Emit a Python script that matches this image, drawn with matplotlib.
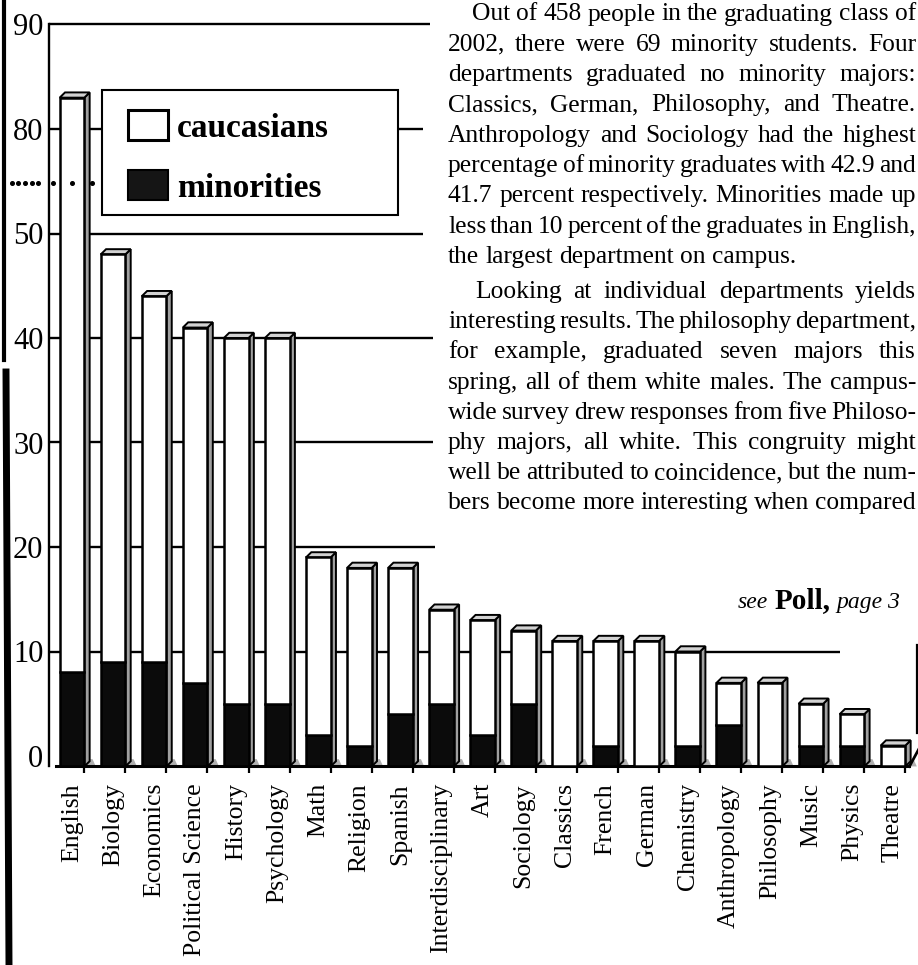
import numpy as np
import matplotlib
matplotlib.use("Agg")
import matplotlib.pyplot as plt
from matplotlib.patches import Polygon, Rectangle
from matplotlib.lines import Line2D
from matplotlib.transforms import Affine2D
from matplotlib.ticker import NullLocator

# ---------------- data ----------------
categories = ["English", "Biology", "Economics", "Political Science", "History",
              "Psychology", "Math", "Religion", "Spanish", "Interdisciplinary",
              "Art", "Sociology", "Classics", "French", "German", "Chemistry",
              "Anthropology", "Philosophy", "Music", "Physics", "Theatre"]
totals = [83, 48, 44, 41, 40, 40, 19, 18, 18, 14, 13, 12, 11, 11, 11, 10, 7, 7, 5, 4, 1]
minorities = [8, 9, 9, 7, 5, 5, 2, 1, 4, 5, 2, 5, 0, 1, 0, 1, 3, 0, 1, 1, 0]
ytick_values = [0, 10, 20, 30, 40, 50, 80, 90]
ytick_labels = ["0", "10", "20", "30", "40", "50", "80", "90"]
legend_labels = ["caucasians", "minorities"]

para1 = [
    "Out of 458 people in the graduating class of",
    "2002, there were 69 minority students.  Four",
    "departments graduated no minority majors:",
    "Classics, German, Philosophy, and Theatre.",
    "Anthropology and Sociology had the highest",
    "percentage of minority graduates with 42.9 and",
    "41.7 percent respectively. Minorities made up",
    "less than 10 percent of the graduates in English,",
    "the largest department on campus.",
]
para2 = [
    "Looking at individual departments yields",
    "interesting results. The philosophy department,",
    "for example, graduated seven majors this",
    "spring, all of them white males. The campus-",
    "wide survey drew responses from five Philoso-",
    "phy majors, all white. This congruity might",
    "well be attributed to coincidence, but the num-",
    "bers become more interesting when compared",
]
see_parts = [("see", "italic", "normal", 17), ("Poll,", "normal", "bold", 21),
             ("page 3", "italic", "normal", 17)]

# ---------------- setup ----------------
SERIF = "Liberation Serif"
plt.rcParams["font.family"] = [SERIF, "DejaVu Serif"]

W, H = 918, 965
fig = plt.figure(figsize=(W / 100, H / 100), dpi=100)
fig.patch.set_facecolor("white")
fig_px = Affine2D().scale(1.0 / W, -1.0 / H).translate(0, 1) + fig.transFigure


def fwd(v):
    v = np.asarray(v, dtype=float)
    return np.where(v <= 50, v, np.where(v >= 80, v - 20, 50 + (v - 50) / 3.0))


def inv(d):
    d = np.asarray(d, dtype=float)
    return np.where(d <= 50, d, np.where(d >= 60, d + 20, 50 + (d - 50) * 3.0))


# pixel geometry
X0, DX = 72.0, 41.05      # px of first category, px per category
Y0, DY = 756.0, 10.45     # px of value 0, px per display unit
L, R, T, B = 49, 918, 20, 775
ax = fig.add_axes([L / W, (H - B) / H, (R - L) / W, (B - T) / H])
ax.set_facecolor("none")
ax.set_yscale("function", functions=(fwd, inv))
ax.set_xlim((L - X0) / DX, (R - X0) / DX)
ax.set_ylim(float(inv((Y0 - B) / DY)), float(inv((Y0 - T) / DY)))
xmin = (L - X0) / DX

# ---------------- grid lines (back wall) ----------------
grid_vals = [10, 20, 30, 40, 50, 80, 90]
grid_ends = [18.71, 8.84, 8.8, 8.8, 8.55, 8.55, 8.72]
for gv, ge in zip(grid_vals, grid_ends):
    ax.hlines(gv, xmin, ge, color="black", lw=1.7, zorder=1)

# ---------------- bars ----------------
x = np.arange(len(categories))
tot = np.array(totals, dtype=float)
mino = np.array(minorities, dtype=float)
w = 0.6
ddx, ddy = 0.13, 0.5
base = -1.0

for xi, t in zip(x, tot):
    xl, xr = xi - w / 2, xi + w / 2
    top_up = float(inv(fwd(t) + ddy))
    # floor shadow
    ax.add_patch(Polygon([(xr, base), (xr + 0.28, base), (xr + 0.2, -0.3), (xr + 0.02, -0.3)],
                         closed=True, facecolor="#b0b0b0", edgecolor="none", zorder=2))
    # side face
    ax.add_patch(Polygon([(xr, base), (xr + ddx, base + ddy), (xr + ddx, top_up), (xr, t)],
                         closed=True, facecolor="#a0a0a0", edgecolor="black", lw=1.4, zorder=2))
    # top face
    ax.add_patch(Polygon([(xl, t), (xl + ddx, top_up), (xr + ddx, top_up), (xr, t)],
                         closed=True, facecolor="#d2d2d2", edgecolor="black", lw=1.4, zorder=2))

black_h = np.where(mino > 0, mino - base, 0.0)
white_bottom = np.where(mino > 0, mino, base)
ax.bar(x, black_h, bottom=base, width=w, color="#0b0b0b", edgecolor="black",
       lw=1.8, zorder=3, label=legend_labels[1])
ax.bar(x, tot - white_bottom, bottom=white_bottom, width=w, color="white",
       edgecolor="black", lw=1.8, zorder=3, label=legend_labels[0])

# ---------------- axes / ticks ----------------
for s in ["top", "right"]:
    ax.spines[s].set_visible(False)
ax.spines["bottom"].set_position(("data", base))
ax.spines["bottom"].set_bounds(-0.4, 20.4)
ax.spines["bottom"].set_linewidth(2.2)
ax.spines["left"].set_bounds(base, 90)
ax.spines["left"].set_linewidth(1.7)

ax.set_xticks(x)
ax.set_xticklabels(categories, rotation=90, fontsize=18.5, family=SERIF)
for lab in ax.get_xticklabels():
    lab.set_verticalalignment("top")
    lab.set_horizontalalignment("center")
ax.tick_params(axis="x", which="major", length=0, pad=12)
ax.set_xticks(x + 0.3, minor=True)
ax.tick_params(axis="x", which="minor", length=5, width=1.6, direction="out", color="black")

ax.set_yticks(ytick_values)
ax.set_yticklabels(ytick_labels, fontsize=22, family=SERIF)
ax.yaxis.set_minor_locator(NullLocator())
ax.tick_params(axis="y", which="major", length=0, pad=4)

# right-hand floor edge
ax.plot([20.4, 20.62], [base, 0.6], color="black", lw=2.0, clip_on=False, zorder=4)

# ---------------- legend ----------------
fig.add_artist(Rectangle((102, 90), 296, 125, transform=fig_px, facecolor="white",
                         edgecolor="black", lw=1.5, zorder=5))
fig.add_artist(Rectangle((128, 110), 40, 30, transform=fig_px, facecolor="white",
                         edgecolor="black", lw=2.2, zorder=6))
fig.add_artist(Rectangle((128, 170), 40, 30, transform=fig_px, facecolor="#151515",
                         edgecolor="black", lw=1.5, zorder=6))
fig.text(177, 137, legend_labels[0], transform=fig_px, fontsize=24, fontweight="bold",
         family=SERIF, ha="left", va="baseline", zorder=7)
fig.text(177, 197, legend_labels[1], transform=fig_px, fontsize=24, fontweight="bold",
         family=SERIF, ha="left", va="baseline", zorder=7)

# axis break dots
fig.add_artist(Line2D([12, 18, 25, 32, 38, 53, 72, 92], [183] * 8, transform=fig_px,
                      linestyle="none", marker="o", markersize=2.6, color="black", zorder=8))

# right wall edge
fig.add_artist(Line2D([917, 917], [645, 733], transform=fig_px, color="black", lw=1.6))

# scanned page edge on the left
fig.add_artist(Line2D([4, 4], [0, 360], transform=fig_px, color="black", lw=3))
fig.add_artist(Line2D([6, 9], [372, 965], transform=fig_px, color="black", lw=5))

# ---------------- article text ----------------
renderer = fig.canvas.get_renderer()
FS = 18.4
space_px = 0.25 * FS * 100 / 72


def put_line(line, y, xl, xr, justify, **kw):
    words = line.split()
    texts = [fig.text(0, 0, wd, transform=fig_px, ha="left", va="baseline",
                      fontsize=FS, family=SERIF, **kw) for wd in words]
    widths = [t.get_window_extent(renderer).width for t in texts]
    if justify and len(words) > 1:
        gap = max((xr - xl - sum(widths)) / (len(words) - 1), 2.0)
    else:
        gap = space_px
    cx = xl
    for t, wd in zip(texts, widths):
        t.set_position((cx, y))
        cx += wd + gap


for k, line in enumerate(para1):
    xl = 472 if k == 0 else 448
    put_line(line, 20.5 + 30.3 * k, xl, 916, k < len(para1) - 1)
for j, line in enumerate(para2):
    xl = 475 if j == 0 else 448
    put_line(line, 298 + 30.2 * j, xl, 916, True)

# "see Poll, page 3"
cx = 738
for txt, style, weight, fs in see_parts:
    t = fig.text(cx, 608, txt, transform=fig_px, ha="left", va="baseline",
                 fontsize=fs, fontstyle=style, fontweight=weight, family=SERIF)
    cx += t.get_window_extent(renderer).width + 0.25 * 17 * 100 / 72

fig.savefig("out.png", dpi=100, facecolor="white")
